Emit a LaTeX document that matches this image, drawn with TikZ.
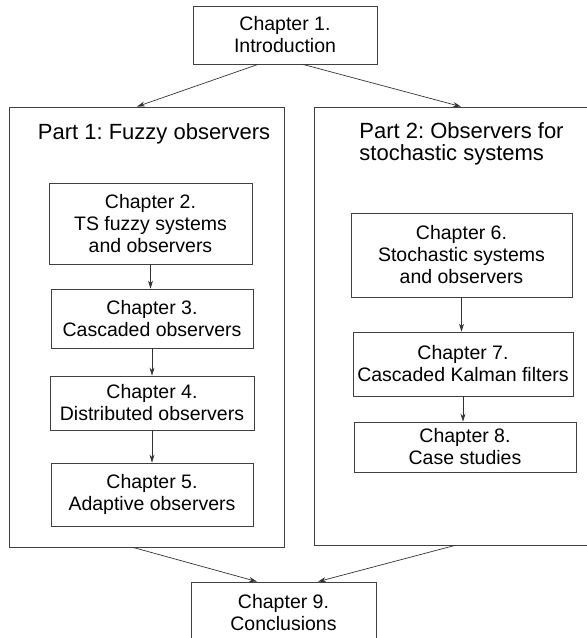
\documentclass[tikz,border=0pt]{standalone}
\usepackage{fontspec}
\setmainfont{Liberation Sans}
\frenchspacing
\usetikzlibrary{arrows.meta}
\begin{document}
\begin{tikzpicture}[x=1pt, y=-1pt, line width=0.8pt,
		chap/.style={draw=black!75, align=center, inner sep=0pt, font=\fontsize{19.5}{22}\selectfont},
		part/.style={draw=black!75, inner sep=0pt},
		title/.style={align=left, inner sep=0pt, font=\fontsize{22}{22}\selectfont},
		link/.style={draw=black!80, line width=0.7pt, -{Stealth[length=8pt,width=5pt]}}]
		\clip (0,0) rectangle (587,638);

		% the two parts
		\node[part, minimum width=275pt, minimum height=440pt] (part1) at (146.5,327) {};
		\node[part, minimum width=276pt, minimum height=438pt] (part2) at (452,326) {};
		\node[title] (title1) at (154,134.3) {Part 1: Fuzzy observers};
		\node[title] (title2) at (461.5,143.5) {Part 2: Observers for\\stochastic systems};

		% chapters
		\node[chap, minimum width=184pt, minimum height=58pt] (ch1) at (285,35) {Chapter 1.\\Introduction};
		\node[chap, minimum width=203pt, minimum height=81pt] (ch2) at (150.5,223.5) {Chapter 2.\\TS fuzzy systems\\and observers};
		\node[chap, minimum width=202pt, minimum height=59pt] (ch3) at (152,318.5) {Chapter 3.\\Cascaded observers};
		\node[chap, minimum width=204pt, minimum height=54pt] (ch4) at (152,403) {Chapter 4.\\Distributed observers};
		\node[chap, minimum width=202pt, minimum height=63pt] (ch5) at (152,494.5) {Chapter 5.\\Adaptive observers};
		\node[chap, minimum width=221pt, minimum height=84pt] (ch6) at (461.5,255) {Chapter 6.\\Stochastic systems\\and observers};
		\node[chap, minimum width=220pt, minimum height=64pt] (ch7) at (463,364) {Chapter 7.\\Cascaded Kalman filters};
		\node[chap, minimum width=222pt, minimum height=50pt] (ch8) at (465,447) {Chapter 8.\\Case studies};
		\node[chap, minimum width=185pt, minimum height=61pt] (ch9) at (283.5,612.5) {Chapter 9.\\Conclusions};

		\path ([xshift=-27pt]ch1.south) edge[link] ([xshift=-9.5pt]part1.north);
		\path ([xshift=18pt]ch1.south) edge[link] ([xshift=9pt]part2.north);
		\path (ch2.south) edge[link] (ch2.south |- ch3.north);
		\path (ch3.south) edge[link] (ch3.south |- ch4.north);
		\path (ch4.south) edge[link] (ch4.south |- ch5.north);
		\path (ch6.south) edge[link] (ch6.south |- ch7.north);
		\path (ch7.south) edge[link] (ch7.south |- ch8.north);
		\path ([xshift=-13.5pt]part1.south) edge[link] ([xshift=-26.5pt]ch9.north);
		\path ([xshift=3pt]part2.south) edge[link] ([xshift=34.5pt]ch9.north);
	\end{tikzpicture}
\end{document}
